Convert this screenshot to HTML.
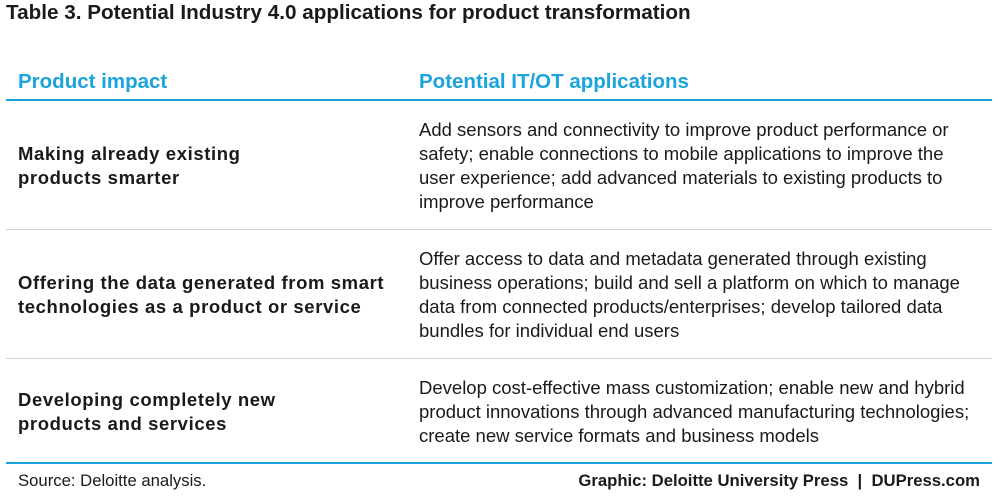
<!DOCTYPE html>
<html><head><meta charset="utf-8"><style>
body{margin:0;background:#fff;}
#c{position:relative;width:1000px;height:502px;overflow:hidden;font-family:"Liberation Sans",sans-serif;color:#1a1a1a;}
.t{position:absolute;white-space:nowrap;}
.b{font-weight:bold;}
.body{font-size:18.5px;line-height:24px;}
.lb{font-size:18.5px;line-height:24px;letter-spacing:0.6px;font-weight:bold;}
.h{color:#1aa3dd;font-weight:bold;font-size:20.5px;}
.line{position:absolute;left:6px;width:986px;}
</style></head><body>
<div id="c">
<div class="t b" style="left:6px;top:1px;font-size:20.7px;">Table 3. Potential Industry 4.0 applications for product transformation</div>
<div class="t h" style="left:18px;top:70px;">Product impact</div>
<div class="t h" style="left:419px;top:70px;">Potential IT/OT applications</div>
<div class="line" style="top:99px;height:2px;background:#1aa3dd;"></div>

<div class="t lb" style="left:18px;top:142px;">Making already existing<br>products smarter</div>
<div class="t body" style="left:419px;top:118px;">Add sensors and connectivity to improve product performance or<br>safety; enable connections to mobile applications to improve the<br>user experience; add advanced materials to existing products to<br>improve performance</div>
<div class="line" style="top:229px;height:1px;background:#cfcfcf;"></div>

<div class="t lb" style="left:18px;top:271px;">Offering the data generated from smart<br>technologies as a product or service</div>
<div class="t body" style="left:419px;top:247px;">Offer access to data and metadata generated through existing<br>business operations; build and sell a platform on which to manage<br>data from connected products/enterprises; develop tailored data<br>bundles for individual end users</div>
<div class="line" style="top:358px;height:1px;background:#cfcfcf;"></div>

<div class="t lb" style="left:18px;top:388px;">Developing completely new<br>products and services</div>
<div class="t body" style="left:419px;top:376px;">Develop cost-effective mass customization; enable new and hybrid<br>product innovations through advanced manufacturing technologies;<br>create new service formats and business models</div>
<div class="line" style="top:462px;height:2px;background:#1aa3dd;"></div>

<div class="t" style="left:18px;top:471px;font-size:16.7px;">Source: Deloitte analysis.</div>
<div class="t b" style="right:20px;top:471px;font-size:16.7px;">Graphic: Deloitte University Press &nbsp;|&nbsp; DUPress.com</div>
</div>
</body></html>
